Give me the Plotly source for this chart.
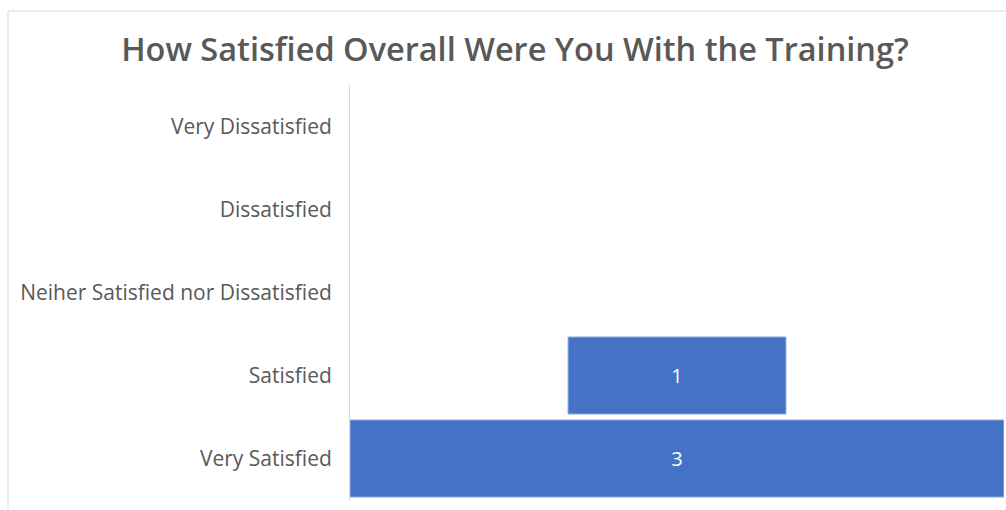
import plotly.graph_objects as go

categories = ["Very Dissatisfied", "Dissatisfied", "Neiher Satisfied nor Dissatisfied",
              "Satisfied", "Very Satisfied"]
counts = [0, 0, 0, 1, 3]
title_text = "How Satisfied Overall Were You With the Training?"

labels = [str(v) if v else "" for v in counts]
edge_w = [1 if v else 0 for v in counts]

fig = go.Figure(go.Funnel(
    y=categories,
    x=counts,
    text=labels,
    textinfo="text",
    textposition="inside",
    insidetextanchor="middle",
    textfont=dict(color="white", size=20, family="Open Sans"),
    marker=dict(color="#4472C4", line=dict(color="#9db5e0", width=edge_w)),
    connector=dict(visible=False),
    width=0.93,
    hoverinfo="y+x",
))

# plot area: x 350..1004, y 85..500
L, R, T, B = 350, 2, 85, 10
W, H = 1006, 510
pw, ph = W - L - R, H - T - B
x0 = (8 - L) / pw
y_top = (H - B - 11) / ph

fig.update_layout(
    width=W, height=H,
    margin=dict(l=L, r=R, t=T, b=B),
    paper_bgcolor="white", plot_bgcolor="white",
    showlegend=False,
    title=dict(text=title_text, x=515 / W, xanchor="center", y=1 - 50 / H, yanchor="middle",
               font=dict(family="Open Sans", size=32.5, color="#595959", weight=600)),
    font=dict(family="Open Sans", color="#595959"),
    xaxis=dict(visible=False, range=[-1.5, 1.5], fixedrange=True),
    yaxis=dict(showline=True, linecolor="#d9d9d9", linewidth=1, showgrid=False,
               ticks="", ticklabelstandoff=13,
               tickfont=dict(family="Open Sans", size=21, color="#595959"),
               categoryorder="array", categoryarray=categories[::-1], autorange=False,
               range=[-0.5, 4.5]),
    shapes=[
        dict(type="line", xref="paper", yref="paper", x0=x0, x1=1.01, y0=y_top, y1=y_top,
             line=dict(color="#d9d9d9", width=1)),
        dict(type="line", xref="paper", yref="paper", x0=x0, x1=x0, y0=y_top, y1=-0.05,
             line=dict(color="#d9d9d9", width=1)),
    ],
)

fig.write_html("out.html")
